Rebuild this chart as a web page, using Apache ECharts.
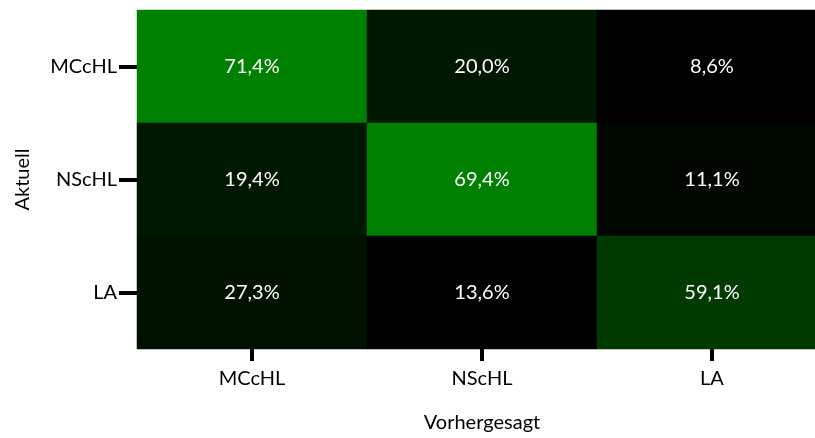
<!DOCTYPE html>
<html>
<head>
<meta charset="utf-8">
<script src="https://cdn.jsdelivr.net/npm/echarts@6/dist/echarts.min.js"></script>
<style>
  html, body { margin: 0; padding: 0; background: #ffffff; }
  #chart { width: 815px; height: 438px; }
</style>
</head>
<body>
<div id="chart"></div>
<script>
// Class labels (same order for actual and predicted)
const classes = ['MCcHL', 'NScHL', 'LA'];

// Confusion counts: one row per actual class, columns = predicted class
const rowMCcHL = [25, 7, 3];
const rowNScHL = [7, 25, 4];
const rowLA    = [6, 3, 13];

const xAxisTitle = 'Vorhergesagt';
const yAxisTitle = 'Aktuell';

const rows = [rowMCcHL, rowNScHL, rowLA];

// Heatmap cells: [predicted index, actual index, count, row percentage]
const cells = [];
rows.forEach((row, yi) => {
  const total = row.reduce((a, b) => a + b, 0);
  row.forEach((count, xi) => {
    cells.push([xi, yi, count, count / total * 100]);
  });
});
const counts = rows.flat();

const FONT = 'Lato';

const chart = echarts.init(document.getElementById('chart'));
chart.setOption({
  animation: false,
  backgroundColor: '#ffffff',
  // the last column runs past the right edge of the canvas
  grid: { left: 137, top: 10, width: 690, height: 339, containLabel: false, outerBoundsMode: 'none' },
  xAxis: {
    type: 'category',
    data: classes,
    position: 'bottom',
    name: xAxisTitle,
    nameLocation: 'middle',
    nameGap: 64,
    nameTextStyle: { fontFamily: FONT, fontSize: 20, color: '#000' },
    axisLine: { show: false },
    axisTick: { show: true, alignWithLabel: true, length: 12, lineStyle: { color: '#000', width: 4 } },
    axisLabel: { fontFamily: FONT, fontSize: 20, color: '#000', margin: 20 },
    splitLine: { show: false }
  },
  yAxis: {
    type: 'category',
    data: classes,
    inverse: true,
    name: yAxisTitle,
    nameLocation: 'middle',
    nameGap: 104,
    nameTextStyle: { fontFamily: FONT, fontSize: 20, color: '#000' },
    axisLine: { show: false },
    axisTick: { show: true, alignWithLabel: true, length: 18, lineStyle: { color: '#000', width: 4 } },
    axisLabel: { fontFamily: FONT, fontSize: 20, color: '#000', margin: 20 },
    splitLine: { show: false }
  },
  visualMap: {
    show: false,
    type: 'continuous',
    dimension: 2,
    min: Math.min(...counts),
    max: Math.max(...counts),
    inRange: { color: ['#000000', '#008000'] }
  },
  series: [{
    type: 'heatmap',
    data: cells,
    encode: { x: 0, y: 1 },
    label: {
      show: true,
      fontFamily: FONT,
      fontSize: 20,
      color: '#ffffff',
      formatter: p => p.value[3].toFixed(1).replace('.', ',') + '%'
    },
    itemStyle: { borderWidth: 0 },
    emphasis: { disabled: true }
  }]
});
</script>
</body>
</html>
